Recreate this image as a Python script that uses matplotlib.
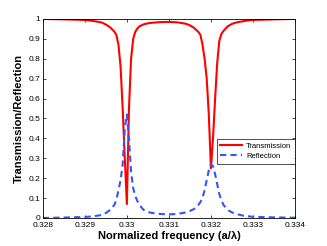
import numpy as np
import matplotlib.pyplot as plt

plt.rcParams['font.family'] = ['Liberation Sans', 'DejaVu Sans']

# Spectrum
freq = [0.328, 0.3285, 0.329, 0.3292, 0.3294, 0.3295, 0.3296, 0.3297, 0.32975,
        0.3298, 0.32985, 0.3299, 0.32995, 0.33, 0.33005, 0.3301, 0.33015, 0.3302,
        0.33025, 0.3303, 0.3304, 0.3305, 0.3306, 0.3308, 0.331, 0.3312, 0.3314,
        0.3315, 0.3316, 0.3317, 0.33175, 0.3318, 0.33185, 0.3319, 0.33195, 0.332,
        0.33205, 0.3321, 0.33215, 0.3322, 0.33225, 0.3323, 0.3324, 0.3325, 0.3326,
        0.3328, 0.333, 0.3335, 0.334]

transmission = [1.0, 0.998, 0.995, 0.99, 0.982, 0.972, 0.958, 0.937, 0.92,
                0.87, 0.76, 0.55, 0.3, 0.07, 0.55, 0.8, 0.9, 0.935,
                0.952, 0.963, 0.973, 0.978, 0.981, 0.984, 0.985, 0.983, 0.976,
                0.968, 0.955, 0.935, 0.92, 0.87, 0.8, 0.7, 0.52, 0.25,
                0.4, 0.6, 0.78, 0.89, 0.925, 0.94, 0.963, 0.975, 0.982,
                0.99, 0.995, 0.998, 1.0]

reflection = [0.0, 0.002, 0.005, 0.008, 0.015, 0.025, 0.04, 0.065, 0.09,
              0.14, 0.19, 0.27, 0.45, 0.52, 0.4, 0.23, 0.15, 0.11,
              0.085, 0.065, 0.04, 0.03, 0.025, 0.02, 0.018, 0.02, 0.028,
              0.035, 0.045, 0.065, 0.08, 0.1, 0.14, 0.19, 0.24, 0.27,
              0.26, 0.22, 0.17, 0.12, 0.09, 0.065, 0.04, 0.028, 0.02,
              0.01, 0.006, 0.003, 0.001]

xticks = [0.328, 0.329, 0.33, 0.331, 0.332, 0.333, 0.334]
xticklabels = ['0.328', '0.329', '0.33', '0.331', '0.332', '0.333', '0.334']
yticks = [0, 0.1, 0.2, 0.3, 0.4, 0.5, 0.6, 0.7, 0.8, 0.9, 1]
yticklabels = ['0', '0.1', '0.2', '0.3', '0.4', '0.5', '0.6', '0.7', '0.8', '0.9', '1']

fig = plt.figure(figsize=(3.27, 2.46), dpi=100)
ax = fig.add_axes([0.131, 0.114, 0.771, 0.809])

ax.plot(freq, transmission, '-', color='#ff0000', linewidth=1.5, label='Transmission')
ax.plot(freq, reflection, '--', color='#3355ff', linewidth=1.5, dashes=(3, 2), label='Reflection')

ax.set_xlim(0.328, 0.334)
ax.set_ylim(0, 1)
ax.set_xticks(xticks)
ax.set_xticklabels(xticklabels)
ax.set_yticks(yticks)
ax.set_yticklabels(yticklabels)
ax.tick_params(direction='in', top=True, right=True, labelsize=6, length=2.5, width=0.5, pad=2)
ax.tick_params(axis='x', pad=3)
for s in ax.spines.values():
    s.set_linewidth(0.6)

ax.set_xlabel('Normalized frequency (a/\u03bb)', fontsize=8, fontweight='bold', labelpad=1)
ax.set_ylabel('Transmission/Reflection', fontsize=8, fontweight='bold', labelpad=3)

leg = ax.legend(loc='upper right', bbox_to_anchor=(1.0, 0.395), fontsize=5.5,
                frameon=True, fancybox=False, edgecolor='black', handlelength=2.9,
                borderpad=0.45, labelspacing=0.35, handletextpad=0.5, borderaxespad=0)
leg.get_frame().set_linewidth(0.6)

fig.savefig('out.png', dpi=100)
